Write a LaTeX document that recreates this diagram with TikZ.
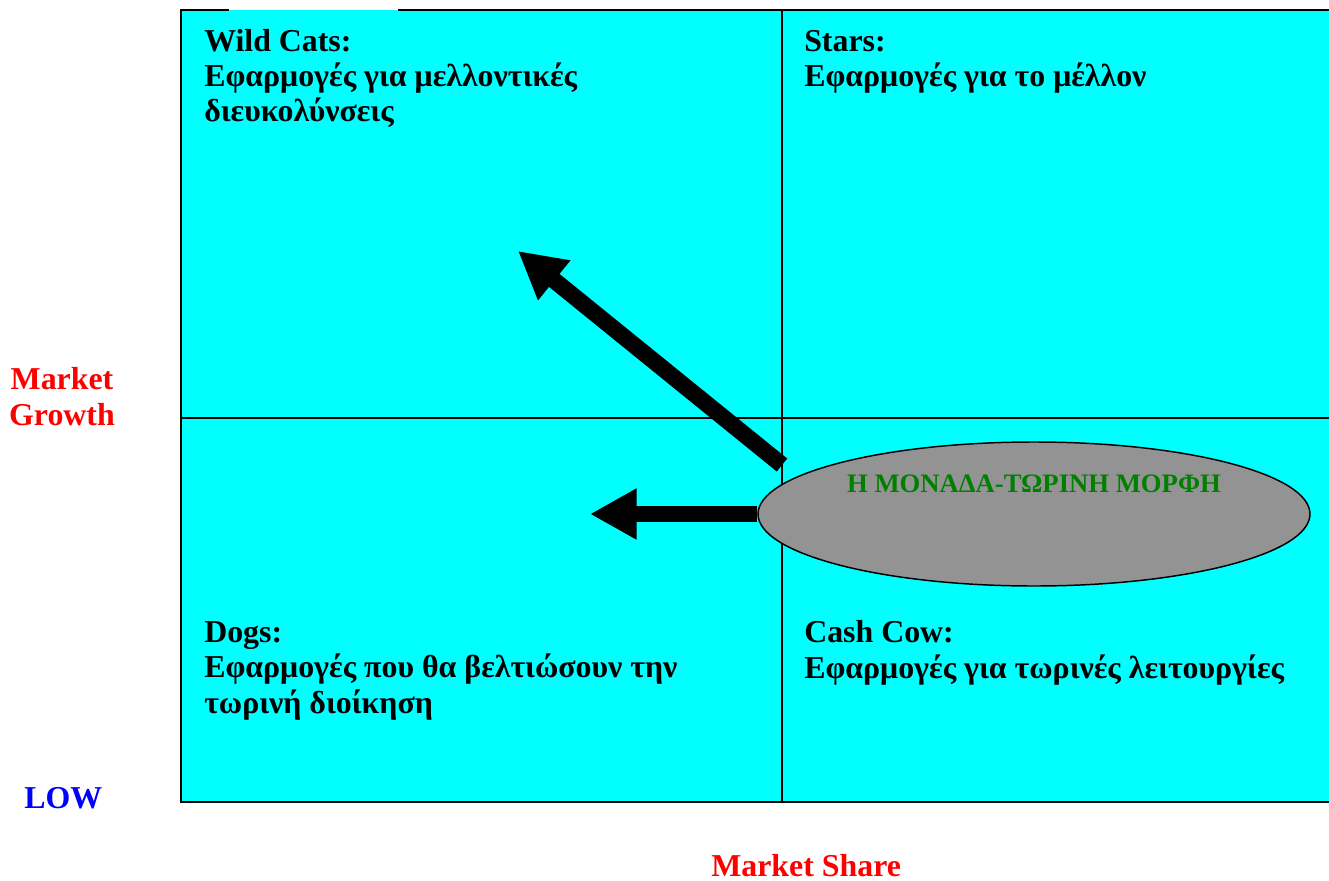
\documentclass[tikz,border=0pt]{standalone}
\usepackage{fontspec}
\setmainfont{Liberation Serif}
\usetikzlibrary{shapes.geometric}
\usetikzlibrary{arrows.meta}
\usepackage{xcolor}
\definecolor{quadcyan}{RGB}{0,255,255}
\definecolor{unitgray}{RGB}{147,147,147}
\definecolor{unitgreen}{RGB}{0,128,0}
\definecolor{axisred}{RGB}{255,0,0}
\definecolor{axisblue}{RGB}{0,0,255}

\begin{document}
\begin{tikzpicture}[x=0.75pt,y=-0.75pt,
    every node/.style={inner sep=0pt, font=\bfseries\fontsize{23.9}{26.6}\selectfont},
    quadtext/.style={anchor=base west, align=left},
    fatarrow/.style={line width=12.5pt, -{Triangle[length=35pt,width=36pt]}}]
            \useasboundingbox (0,0) rectangle (1329,881);
            % BCG matrix
            \fill[quadcyan] (181,10) rectangle (1329,802);
            \draw[line width=1.1pt] (782,10) -- (782,802);
            \draw[line width=1.1pt] (181,418) -- (1329,418);
            \draw[line width=1.7pt] (1329,10) -- (398,10);
            \draw[line width=1.7pt] (229,10) -- (181,10) -- (181,802) -- (1329,802);

            % text nodes sit on the baseline of their last line
            \node[quadtext] (wildcats) at (204,122) {Wild Cats:\\Εφαρμογές για μελλοντικές\\διευκολύνσεις};
            \node[quadtext] (stars) at (804,87) {Stars:\\Εφαρμογές για το μέλλον};
            \node[quadtext] (dogs) at (204,713) {Dogs:\\Εφαρμογές που θα βελτιώσουν την\\τωρινή διοίκηση};
            \node[quadtext] (cashcow) at (804,678) {Cash Cow:\\Εφαρμογές για τωρινές λειτουργίες};

            % current position of the unit
            \coordinate (growstart) at (782,465);
            \coordinate (growtip) at (518,251);
            \coordinate (shrinktip) at (590,514);
            \node[draw, ellipse, line width=1.1pt, fill=unitgray, minimum width=414pt, minimum height=108pt] (unit) at (1034,514) {};
            \node[text=unitgreen, anchor=base, font=\bfseries\fontsize{20}{24}\selectfont] (unittext) at (1034,492) {Η ΜΟΝΑΔΑ-ΤΩΡΙΝΗ ΜΟΡΦΗ};

            \draw[fatarrow] (growstart) -- (growtip);
            \draw[fatarrow] (unit.west) -- (shrinktip);

            % axes
            \node[text=axisred, align=center, anchor=base] (growth) at (62,425) {Market\\Growth};
            \node[text=axisblue, anchor=base west] (low) at (24,808) {LOW};
            \node[text=axisred, anchor=base west] (share) at (711,876) {Market Share};
        \end{tikzpicture}
\end{document}
